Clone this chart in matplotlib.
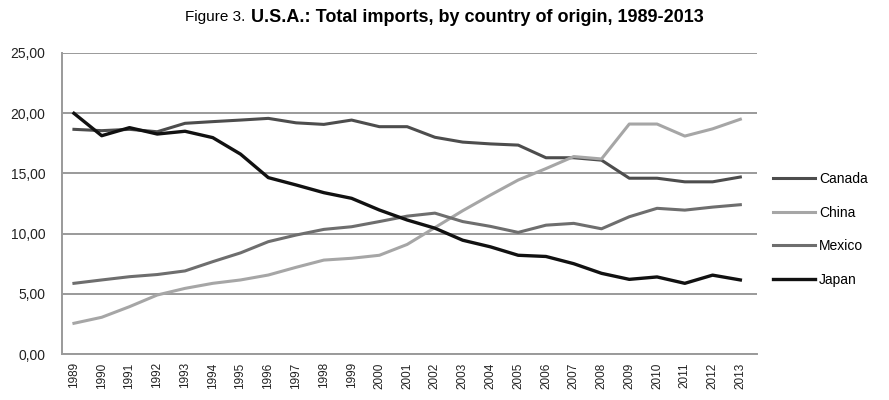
import matplotlib
matplotlib.use("Agg")
import matplotlib.pyplot as plt
from matplotlib.ticker import FuncFormatter, MultipleLocator

years = list(range(1989, 2014))
canada = [18.66, 18.55, 18.66, 18.46, 19.16, 19.3, 19.43, 19.57, 19.2, 19.07, 19.43, 18.88, 18.88,
          18.0, 17.6, 17.45, 17.35, 16.3, 16.3, 16.1, 14.6, 14.6, 14.3, 14.3, 14.7]
china = [2.55, 3.05, 3.93, 4.9, 5.45, 5.87, 6.15, 6.56, 7.2, 7.8, 7.95, 8.2, 9.1,
         10.5, 11.9, 13.2, 14.45, 15.4, 16.4, 16.2, 19.1, 19.1, 18.1, 18.7, 19.5]
mexico = [5.87, 6.15, 6.42, 6.6, 6.9, 7.67, 8.4, 9.33, 9.88, 10.35, 10.57, 11.0, 11.45,
          11.7, 11.0, 10.6, 10.1, 10.7, 10.85, 10.4, 11.4, 12.1, 11.95, 12.2, 12.4]
japan = [19.99, 18.13, 18.8, 18.27, 18.5, 17.97, 16.6, 14.65, 14.04, 13.4, 12.93, 11.96, 11.13,
         10.45, 9.45, 8.9, 8.2, 8.1, 7.5, 6.7, 6.2, 6.4, 5.87, 6.55, 6.15]
series_names = ["Canada", "China", "Mexico", "Japan"]
series_colors = ["#4d4d4d", "#a6a6a6", "#6e6e6e", "#111111"]

fig = plt.figure(figsize=(8.89, 4.0), dpi=100)
ax = fig.add_axes([62/889, 1-354/400, (757-62)/889, (354-53)/400])

for name, vals, c in zip(series_names, [canada, china, mexico, japan], series_colors):
    ax.plot(years, vals, color=c, lw=2.2 if name != "Japan" else 2.4, label=name, solid_joinstyle="round")

ax.set_ylim(0, 25)
ax.set_xlim(1988.57, 2013.6)
ax.yaxis.set_major_locator(MultipleLocator(5))
ax.yaxis.set_major_formatter(FuncFormatter(lambda v, p: f"{v:.2f}".replace(".", ",")))
ax.set_xticks(years)
ax.set_xticklabels([str(y) for y in years], rotation=90, fontsize=8.5, family="Liberation Sans")
for lab in ax.get_yticklabels():
    lab.set_fontsize(10)
    lab.set_family("Liberation Sans")
ax.tick_params(axis="both", length=0, pad=6, colors="#222222")
ax.tick_params(axis="y", pad=12)
ax.grid(axis="y", color="#9a9a9a", lw=1.4)
ax.set_axisbelow(True)
for s in ["top", "right"]:
    ax.spines[s].set_visible(False)
for s in ["left", "bottom"]:
    ax.spines[s].set_color("#9a9a9a")
    ax.spines[s].set_linewidth(1.4)

leg = ax.legend(loc="upper left", bbox_to_anchor=(1.005, 0.645), frameon=False,
                handlelength=3.0, handletextpad=0.3, labelspacing=1.4,
                prop={"family": "Liberation Sans", "size": 10})

fig.text(245/889, 1-17/400, "Figure 3.", ha="right", va="center", fontsize=11, family="Liberation Sans")
fig.text(251/889, 1-17/400, "U.S.A.: Total imports, by country of origin, 1989-2013", ha="left",
         va="center", fontsize=13, family="Liberation Sans", weight="bold")

fig.savefig("out.png", dpi=100)
